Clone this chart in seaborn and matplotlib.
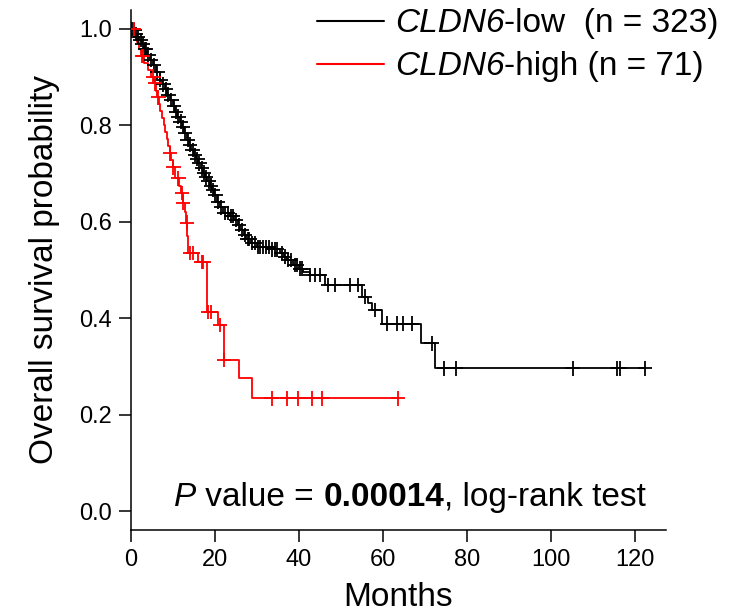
import numpy as np
import pandas as pd
import matplotlib
matplotlib.use("Agg")
import matplotlib.pyplot as plt
import seaborn as sns
from matplotlib.lines import Line2D
from matplotlib.offsetbox import (TextArea, HPacker, VPacker, DrawingArea,
                                  AnchoredOffsetbox)

# ---------------- data ----------------
groups = ["CLDN6-low", "CLDN6-high"]
gene = "CLDN6"
legend_suffix = ["-low  (n = 323)", "-high (n = 71)"]
colors = ["#000000", "#ff0000"]
p_value = "0.00014"

# step times (months) and survival after each step
low_times = [0.5, 1.0, 1.5, 2.0, 2.6, 3.2, 3.8, 4.5, 5.2, 6.0, 6.8, 7.4, 8.0, 8.6, 9.3,
             9.9, 10.5, 11.0, 11.6, 12.1, 12.7, 13.3, 13.9, 14.4, 15.0, 15.5, 16.0, 16.6,
             17.1, 17.6, 18.2, 18.7, 19.2, 19.8, 20.4, 21.2, 22.0, 23.5, 24.6, 25.4, 26.0,
             26.8, 27.5, 28.5, 29.9, 33.1, 35.5, 36.4, 37.1, 38.6, 40.0, 41.0, 42.6, 46.2,
             54.9, 56.5, 57.3, 59.7, 69.0, 72.4]
low_surv = [0.997, 0.990, 0.984, 0.977, 0.968, 0.958, 0.947, 0.936, 0.925, 0.911, 0.895,
            0.885, 0.875, 0.864, 0.853, 0.840, 0.828, 0.818, 0.808, 0.797, 0.784, 0.770,
            0.760, 0.749, 0.739, 0.730, 0.721, 0.711, 0.702, 0.692, 0.684, 0.675, 0.666,
            0.655, 0.642, 0.630, 0.618, 0.612, 0.604, 0.593, 0.583, 0.573, 0.564, 0.556,
            0.548, 0.543, 0.535, 0.528, 0.521, 0.510, 0.503, 0.495, 0.490, 0.469, 0.445,
            0.432, 0.417, 0.389, 0.348, 0.296]
low_censored = [0.3, 0.8, 1.2, 1.7, 2.3, 2.8, 3.3, 3.6, 4.1, 4.8, 5.5, 6.3, 7.0, 7.7, 8.3,
                8.9, 9.6, 10.2, 10.7, 11.3, 11.8, 12.4, 12.9, 13.5, 14.1, 14.7, 15.2, 15.8,
                16.3, 16.9, 17.4, 17.9, 18.5, 19.0, 19.5, 20.1, 20.7, 21.5, 22.3, 23.0, 23.8,
                24.2, 25.0, 25.7, 26.4, 27.1, 27.8, 28.2, 28.9, 29.5, 30.2, 30.8, 31.5, 32.2,
                32.8, 33.6, 34.2, 34.8, 35.9, 36.7, 37.5, 38.1, 39.0, 39.5, 40.3, 40.8, 42.6,
                43.8, 45.0, 47.0, 48.6, 52.1, 54.1, 55.7, 58.1, 61.0, 63.3, 64.8, 66.8, 71.6,
                74.5, 77.4, 105.2, 115.8, 116.4, 122.4]
low_end = 122.4

high_times = [1.0, 1.5, 2.0, 2.4, 3.2, 4.0, 4.8, 5.5, 6.0, 6.3, 6.7, 7.0, 7.4, 7.8, 8.1,
              8.5, 8.9, 9.2, 9.6, 10.0, 10.5, 11.5, 12.0, 12.3, 12.8, 13.1, 13.4, 13.6,
              16.0, 18.1, 20.8, 22.1, 25.6, 28.7]
high_surv = [0.986, 0.972, 0.958, 0.944, 0.930, 0.915, 0.901, 0.887, 0.872, 0.858, 0.844,
             0.829, 0.815, 0.800, 0.786, 0.771, 0.757, 0.742, 0.728, 0.713, 0.690, 0.675,
             0.660, 0.640, 0.620, 0.598, 0.570, 0.535, 0.517, 0.413, 0.386, 0.313, 0.275,
             0.234]
high_censored = [0.6, 2.6, 2.9, 5.3, 5.7, 6.5, 9.3, 10.1, 11.3, 12.1, 12.4, 13.3, 14.0, 14.8,
                 16.8, 17.2, 18.3, 19.0, 21.2, 22.1, 33.5, 37.1, 39.8, 43.2, 45.6, 63.6]
high_end = 63.6

x_ticks = [0, 20, 40, 60, 80, 100, 120]
y_ticks = [0.0, 0.2, 0.4, 0.6, 0.8, 1.0]

# ---------------- build tables ----------------
def curve(times, surv, end):
    t = np.array([0.0] + list(times) + [end])
    s = np.array([1.0] + list(surv) + [surv[-1]])
    return t, s

rows, crows = [], []
for g, (tt, ss, cc, end) in zip(groups, [(low_times, low_surv, low_censored, low_end),
                                          (high_times, high_surv, high_censored, high_end)]):
    t, s = curve(tt, ss, end)
    for a, b in zip(t, s):
        rows.append((g, a, b))
    c = np.array(cc)
    idx = np.searchsorted(t, c, side="right") - 1
    for a, b in zip(c, s[idx]):
        crows.append((g, a, b))
df = pd.DataFrame(rows, columns=["group", "time", "surv"])
cdf = pd.DataFrame(crows, columns=["group", "time", "surv"])

# ---------------- plot ----------------
sns.set_style("ticks")
plt.rcParams["font.family"] = ["Liberation Sans", "DejaVu Sans"]
for key in ["text.color", "axes.labelcolor", "xtick.color", "ytick.color",
            "axes.edgecolor"]:
    plt.rcParams[key] = "black"

W, H = 753, 615
fig = plt.figure(figsize=(W / 100, H / 100), dpi=100)
ax = fig.add_axes([131 / W, (H - 530.3) / H, 535 / W, 520.6 / H])

pal = dict(zip(groups, colors))
sns.lineplot(data=df, x="time", y="surv", hue="group", palette=pal, hue_order=groups,
             drawstyle="steps-post", estimator=None, sort=False, linewidth=1.3,
             legend=False, ax=ax)
sns.scatterplot(data=cdf, x="time", y="surv", hue="group", palette=pal, hue_order=groups,
                marker="+", s=110, linewidth=1.3, legend=False, ax=ax, zorder=3)

ax.set_xlim(0, 127.4)
ax.set_ylim(-0.04, 1.04)
ax.set_xticks(x_ticks)
ax.set_yticks(y_ticks)
ax.set_xticklabels([str(v) for v in x_ticks])
ax.set_yticklabels([f"{v:.1f}" for v in y_ticks])
for side in ["top", "right"]:
    ax.spines[side].set_visible(False)
for side in ["left", "bottom"]:
    ax.spines[side].set_linewidth(1.1)
    ax.spines[side].set_color("black")
ax.tick_params(axis="both", direction="out", length=8.6, width=1.1, labelsize=17,
               colors="black", pad=5)
ax.set_xlabel("Months", fontsize=24, labelpad=8, color="black")
ax.set_ylabel("Overall survival probability", fontsize=24, labelpad=14, color="black")

# ---------------- legend (italic gene name) ----------------
LFS = 24
legend_rows = []
for col, suf in zip(colors, legend_suffix):
    da = DrawingArea(48, LFS * 0.8, 0, 0)
    da.add_artist(Line2D([0, 48], [LFS * 0.33, LFS * 0.33], color=col, lw=1.5))
    t1 = TextArea(gene, textprops=dict(fontsize=LFS, style="italic", color="black"))
    t2 = TextArea(suf, textprops=dict(fontsize=LFS, color="black"))
    txt = HPacker(children=[t1, t2], align="baseline", pad=0, sep=0)
    legend_rows.append(HPacker(children=[da, txt], align="baseline", pad=0, sep=8))
leg_box = VPacker(children=legend_rows, align="left", pad=0, sep=7)
anch = AnchoredOffsetbox(loc="upper left", child=leg_box, pad=0, borderpad=0,
                         frameon=False, bbox_to_anchor=(317 / W, 1 - 5 / H),
                         bbox_transform=fig.transFigure)
fig.add_artist(anch)

# ---------------- P value annotation ----------------
PFS = 24
pieces = [TextArea("P", textprops=dict(fontsize=PFS, style="italic", color="black")),
          TextArea(" value = ", textprops=dict(fontsize=PFS, color="black")),
          TextArea(p_value, textprops=dict(fontsize=PFS, weight="bold", color="black")),
          TextArea(", log-rank test", textprops=dict(fontsize=PFS, color="black"))]
pbox = HPacker(children=pieces, align="baseline", pad=0, sep=0)
panch = AnchoredOffsetbox(loc="lower center", child=pbox, pad=0, borderpad=0,
                          frameon=False, bbox_to_anchor=(410 / W, (H - 513) / H),
                          bbox_transform=fig.transFigure)
fig.add_artist(panch)

fig.savefig("out.png", dpi=100)
